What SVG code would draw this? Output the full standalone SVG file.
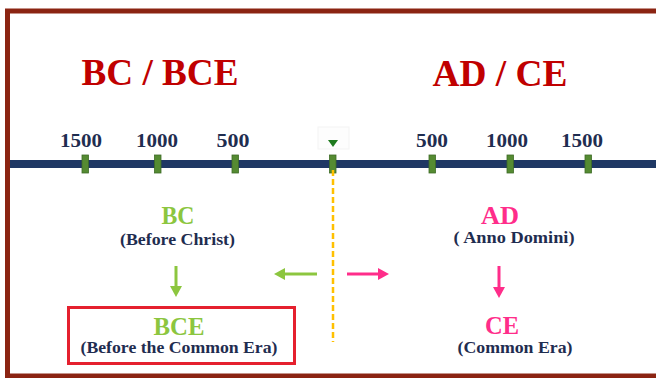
<svg xmlns="http://www.w3.org/2000/svg" width="656" height="378" viewBox="0 0 656 378">
<style>
.t{font-family:"Liberation Serif","Times New Roman",serif;font-weight:bold;text-anchor:middle}
.title{font-size:38px;fill:#C00000}
.yr{font-size:19px;fill:#1F2D50}
.sub{font-size:16px;fill:#1F2D50}
.g{font-size:26px;fill:#8CC63F}
.p{font-size:26px;fill:#FF2D8A}
.tick{fill:#558B32;stroke:#3E6B26;stroke-width:0.8}
</style>
<defs>
<marker id="ag" markerUnits="userSpaceOnUse" markerWidth="13" markerHeight="13" refX="0" refY="6" orient="auto"><path d="M0,0 L11,6 L0,12 Z" fill="#8CC63F"/></marker>
<marker id="ap" markerUnits="userSpaceOnUse" markerWidth="13" markerHeight="13" refX="0" refY="6" orient="auto"><path d="M0,0 L11,6 L0,12 Z" fill="#FF2D8A"/></marker>
</defs>
<rect x="0" y="0" width="656" height="378" fill="#ffffff"/>
<rect id="frame" x="7.5" y="11" width="700" height="365" fill="#ffffff" stroke="#8B2412" stroke-width="5"/>
<g id="titles">
<text class="t title" x="160" y="85" textLength="157" lengthAdjust="spacingAndGlyphs">BC / BCE</text>
<text class="t title" x="500" y="86" textLength="135" lengthAdjust="spacingAndGlyphs">AD / CE</text>
</g>
<g id="timeline">
<rect x="10" y="160" width="646" height="8" fill="#1F3864"/>
<rect x="318" y="127" width="31" height="22" fill="#fdfdfd" stroke="#f3f3f3" stroke-width="1"/>
<path d="M328,140 L338,140 L333,147 Z" fill="#1E7A1E"/>
<rect class="tick" x="82" y="155" width="6.5" height="18"/>
<rect class="tick" x="154.5" y="155" width="6.5" height="18"/>
<rect class="tick" x="232" y="155" width="6.5" height="18"/>
<rect class="tick" x="329.5" y="155" width="6.5" height="18"/>
<rect class="tick" x="429" y="155" width="6.5" height="18"/>
<rect class="tick" x="507" y="155" width="6.5" height="18"/>
<rect class="tick" x="585" y="155" width="6.5" height="18"/>
<text class="t yr" x="81" y="147" textLength="42" lengthAdjust="spacingAndGlyphs">1500</text>
<text class="t yr" x="157" y="147" textLength="42" lengthAdjust="spacingAndGlyphs">1000</text>
<text class="t yr" x="233" y="147" textLength="33" lengthAdjust="spacingAndGlyphs">500</text>
<text class="t yr" x="432" y="147" textLength="32" lengthAdjust="spacingAndGlyphs">500</text>
<text class="t yr" x="507" y="147" textLength="42" lengthAdjust="spacingAndGlyphs">1000</text>
<text class="t yr" x="582" y="147" textLength="42" lengthAdjust="spacingAndGlyphs">1500</text>
</g>
<g id="bc">
<text class="t g" x="178" y="224" textLength="33" lengthAdjust="spacingAndGlyphs">BC</text>
<text class="t sub" x="177.5" y="245" textLength="115" lengthAdjust="spacingAndGlyphs">(Before Christ)</text>
</g>
<g id="bce">
<rect x="68.5" y="307.5" width="226" height="56" fill="none" stroke="#E5202E" stroke-width="3"/>
<text class="t g" x="179" y="335" textLength="51" lengthAdjust="spacingAndGlyphs">BCE</text>
<text class="t sub" x="179" y="353" textLength="197" lengthAdjust="spacingAndGlyphs">(Before the Common Era)</text>
</g>
<g id="ad">
<text class="t p" x="500" y="224" textLength="38" lengthAdjust="spacingAndGlyphs">AD</text>
<text class="t sub" x="514" y="243" textLength="121" lengthAdjust="spacingAndGlyphs">( Anno Domini)</text>
</g>
<g id="ce">
<text class="t p" x="502" y="334" textLength="34" lengthAdjust="spacingAndGlyphs">CE</text>
<text class="t sub" x="515" y="353" textLength="115" lengthAdjust="spacingAndGlyphs">(Common Era)</text>
</g>
<g id="connectors" fill="none" stroke-width="3">
<line x1="333" y1="170" x2="333" y2="342" stroke="#FFC000" stroke-width="2.5" stroke-dasharray="6 3"/>
<line x1="176" y1="266" x2="176" y2="286" stroke="#8CC63F" marker-end="url(#ag)"/>
<line x1="317" y1="274" x2="285" y2="274" stroke="#8CC63F" marker-end="url(#ag)"/>
<line x1="347" y1="274" x2="378" y2="274" stroke="#FF2D8A" marker-end="url(#ap)"/>
<line x1="499" y1="266" x2="499" y2="287" stroke="#FF2D8A" marker-end="url(#ap)"/>
</g>
</svg>
